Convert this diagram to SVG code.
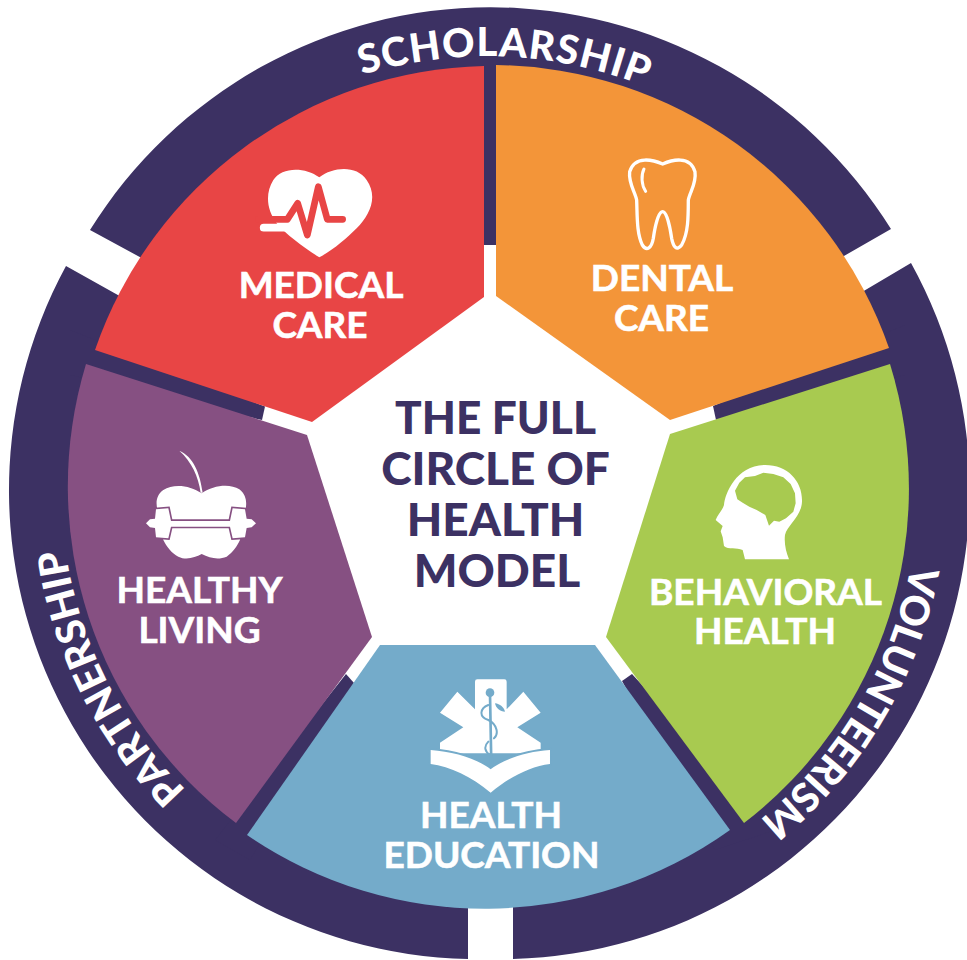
<svg xmlns="http://www.w3.org/2000/svg" width="967" height="960" viewBox="0 0 967 960">
<style>
.d{fill:#3c3163}
.w{fill:#fff}
.t{font-family:"Lato","Liberation Sans",sans-serif;font-weight:700;font-size:37px;fill:#fff;stroke:#fff;stroke-width:.6px;text-anchor:middle}
.c{font-family:"Lato","Liberation Sans",sans-serif;font-weight:900;font-size:46px;fill:#3c3163;text-anchor:middle}
.r{font-family:"Lato","Liberation Sans",sans-serif;font-weight:900;font-size:40px;fill:#fff}
</style>
<defs>
<path id="pS" d="M362,75 A430,430 0 0 1 702,114"/>
<path id="pP" d="M186,790 A426,426 0 0 1 63,449"/>
<path id="pV" d="M911,565 A431,431 0 0 1 634,891"/>
</defs>
<rect width="967" height="960" fill="#fff"/>
<g id="ring">
<path class="d" d="M160,268 L90,230 A472,472 0 0 1 891,229 L830,264 L490,200Z"/>
<path class="d" d="M66,266 L150,313 L200,450 L300,800 L468,880 V959 A469,469 0 0 1 66,266Z"/>
<path class="d" d="M911,263 L835,308 L780,450 L680,800 L513,880 V959 A469,469 0 0 0 911,263Z"/>
</g>
<g id="connectors">
<rect class="d" x="483" y="50" width="14" height="195"/>
<polygon class="d" points="70,330 265,406.500 262,420 70,375"/>
<polygon class="d" points="905,325 713,406 716,420 905,375"/>
<polygon class="d" points="346,674 354,683 250,860 215,840"/>
<polygon class="d" points="622,681 632,674 775,830 715,850"/>
</g>
<g id="medical-care">
<path fill="#e84545" d="M484,66 V297 L312,422 L95,350 A421,421 0 0 1 484,66Z"/>
<g transform="translate(250,160) scale(.3333)">
<path class="w" d="M208,292 C160,262 110,225 80,190 C50,150 45,100 70,60 C95,20 165,20 208,52 C250,20 320,15 350,60 C385,110 360,165 320,205 C290,235 250,270 208,292Z"/>
<path fill="none" stroke="#e84545" stroke-width="20" stroke-linecap="round" stroke-linejoin="round" d="M25,178 H112 L143,130 L172,225 L205,80 L232,178 H278"/>
<path fill="none" stroke="#fff" stroke-width="23" stroke-linecap="round" d="M41,203 H118"/>
</g>
<text class="t" x="321" y="298">MEDICAL</text>
<text class="t" x="320" y="338">CARE</text>
</g>
<g id="dental-care">
<path fill="#f39539" d="M496,65 V296 L670,420 L889,348 A421,421 0 0 0 496,65Z"/>
<g transform="translate(480,0) scale(.3333)">
<path fill="none" stroke="#fff" stroke-width="10" stroke-linejoin="round" d="M548,492 C575,480 630,465 645,515 C650,550 630,575 625,600 C625,650 625,700 605,735 C590,755 580,740 575,715 C570,680 560,635 548,635 C535,635 525,680 520,715 C515,745 500,755 487,735 C470,700 472,650 470,600 C465,575 445,550 449,515 C465,465 520,480 548,492Z"/>
<path fill="none" stroke="#fff" stroke-width="9" stroke-linecap="round" d="M492,507 C483,525 484,555 497,574"/>
</g>
<text class="t" x="662" y="291">DENTAL</text>
<text class="t" x="661.500" y="331">CARE</text>
</g>
<g id="behavioral-health">
<path fill="#a8ca50" d="M890,364 L670,434 L606,637 L744,823 A421,421 0 0 0 890,364Z"/>
<g transform="translate(700,460) scale(.3333)">
<path class="w" d="M195,15 C265,15 308,65 306,125 C304,170 262,195 255,225 C252,250 258,275 267,298 H135 L128,270 C110,262 85,270 72,258 L68,232 L62,214 L68,198 L47,180 C52,165 68,150 72,135 C75,100 110,15 195,15Z"/>
<path fill="#a8ca50" d="M105,92 L118,68 L135,52 L165,48 L190,38 L220,42 L250,52 L272,72 L285,100 L287,130 L280,155 L258,175 L238,185 L222,182 L207,197 L196,165 L170,150 L148,140 L128,128 L112,118Z"/>
</g>
<text class="t" x="765.500" y="605">BEHAVIORAL</text>
<text class="t" x="765" y="644">HEALTH</text>
</g>
<g id="health-education">
<path fill="#74abca" d="M380,645 H595 L730,830 A421,421 0 0 1 247,835Z"/>
<g transform="translate(420,670) scale(.3333)">
<path class="w" d="M165,35 Q165,28 172,28 H253 Q260,28 260,35 V118 L310,65 L362,128 L292,172 L362,218 L362,250 H60 V218 L130,172 L60,128 L112,65 L165,118Z"/>
<path class="w" stroke="#74abca" stroke-width="12" paint-order="stroke" d="M32,240 C100,245 170,265 212,298 C255,265 320,245 390,240 V282 C330,290 270,320 212,368 C155,320 90,290 32,282Z"/>
<g fill="none" stroke="#74abca" stroke-linecap="round">
<path stroke-width="8" d="M210,70 L214,285"/>
<path stroke-width="6" d="M205,105 C180,115 175,140 205,150 C235,165 235,195 222,205 M205,215 C190,230 195,245 210,255 C222,265 218,280 214,290"/>
</g>
<circle cx="210" cy="68" r="13" fill="#74abca"/>
<path fill="#74abca" d="M225,100 C240,102 252,112 255,125 C240,125 228,115 225,100Z"/>
</g>
<text class="t" x="491" y="828">HEALTH</text>
<text class="t" x="491.500" y="868">EDUCATION</text>
</g>
<g id="healthy-living">
<path fill="#865082" d="M236,823 L372,637 L307,435 L86,364 A421,421 0 0 0 236,823Z"/>
<g transform="translate(130,440) scale(.3333)">
<path class="w" d="M148,32 C190,50 210,100 218,158 L212,158 C205,110 185,65 148,32Z"/>
<path class="w" d="M215,160 C180,135 130,130 100,150 C78,165 76,190 84,215 L100,300 C110,320 125,340 145,350 C170,362 195,352 215,342 C240,355 265,360 290,350 C310,335 320,320 330,300 L345,215 C352,190 350,165 328,148 C300,130 250,135 215,160Z"/>
<path class="w" stroke="#865082" stroke-width="10" paint-order="stroke" d="M48,250 L60,238 L75,236 L78,208 L115,205 L123,243 H300 L308,205 L345,208 L350,236 L365,238 L378,250 L365,262 L350,264 L345,292 L308,295 L300,260 H123 L115,295 L78,292 L75,264 L60,262Z"/>
</g>
<text class="t" x="199.500" y="603">HEALTHY</text>
<text class="t" x="199.500" y="643">LIVING</text>
</g>
<g id="center">
<text class="c" x="495.500" y="434" textLength="201" lengthAdjust="spacingAndGlyphs">THE FULL</text>
<text class="c" x="495.500" y="485">CIRCLE OF</text>
<text class="c" x="495.500" y="536">HEALTH</text>
<text class="c" x="497" y="587">MODEL</text>
</g>
<g id="ring-labels">
<text class="r"><textPath href="#pS" textLength="288">SCHOLARSHIP</textPath></text>
<text class="r"><textPath href="#pP" textLength="274">PARTNERSHIP</textPath></text>
<text class="r"><textPath href="#pV" textLength="303">VOLUNTEERISM</textPath></text>
</g>
</svg>
